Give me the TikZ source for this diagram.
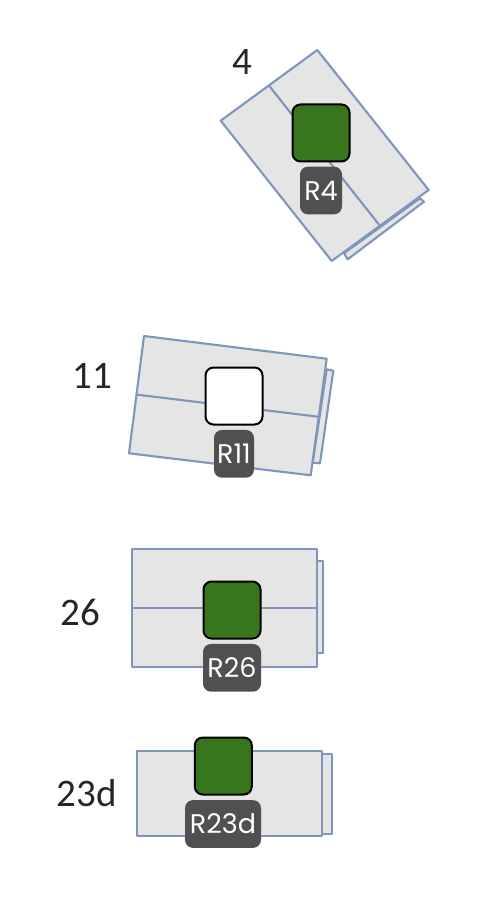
\documentclass[tikz,border=0pt]{standalone}
\usepackage{fontspec}
\setmainfont{Poppins}
\newfontfamily\numfont{Carlito}
\definecolor{edgeblue}{HTML}{7F95BC}
\definecolor{panelgrey}{HTML}{E5E5E5}
\definecolor{padgreen}{HTML}{38761D}
\definecolor{taggrey}{HTML}{505050}
\tikzset{
  panel/.style={draw=edgeblue,fill=panelgrey,line width=2.1pt,line join=round},
  divider/.style={draw=edgeblue,line width=2.1pt},
  pad/.style={draw=black,line width=2pt,rounded corners=8pt,minimum width=57pt,minimum height=57pt,inner sep=0pt},
  greenpad/.style={pad,fill=padgreen},
  whitepad/.style={pad,fill=white},
  tag/.style={fill=taggrey,rounded corners=8pt,text=white,inner sep=0pt,minimum height=47.7pt,font=\fontsize{27}{27}\selectfont},
  num/.style={text=black!85,inner sep=0pt,font=\numfont\fontsize{39}{39}\selectfont}
}
\begin{document}
\begin{tikzpicture}[x=1pt,y=-1pt]
\useasboundingbox[fill=white] (0,0) rectangle (480,920);
% panel 4
\draw[panel] (344,253.3) -- (347.7,259.3) -- (424,201.7) -- (420,198.3) -- cycle;
\draw[panel] (317.3,50) -- (428.7,190) -- (331.7,261) -- (220.7,120.7) -- cycle;
\coordinate (d4a) at (269.3,86);
\coordinate (d4b) at (379.3,225);
\draw[divider] (d4a) -- (d4b);
\node[greenpad] (p4) at (321,133) {};
\node[tag,minimum width=42pt] (t4) at (321,190.5) {R4};
\node[num] (n4) at (242.5,62) {4};
% panel 11
\draw[panel] (326.7,369.3) -- (333.3,370.7) -- (320,463.3) -- (312.7,462.7) -- cycle;
\draw[panel] (144,336) -- (326.7,358.7) -- (310.7,475.3) -- (129,453.3) -- cycle;
\coordinate (d11a) at (137.3,394.7);
\coordinate (d11b) at (318.3,416.7);
\draw[divider] (d11a) -- (d11b);
\node[whitepad] (p11) at (234,396) {};
\node[tag,minimum width=40pt] (t11) at (234,453.8) {R11};
\node[num] (n11) at (92,376) {11};
% panel 26
\draw[panel] (316.7,560.7) rectangle (323.3,653.3);
\draw[panel] (132.3,548.7) rectangle (316.7,667.3);
\coordinate (d26a) at (132.3,608.3);
\coordinate (d26b) at (316.7,608.3);
\draw[divider] (d26a) -- (d26b);
\node[greenpad] (p26) at (232,610) {};
\node[tag,minimum width=58pt] (t26) at (232,667.8) {R26};
\node[num] (n26) at (80,612) {26};
% panel 23d
\draw[panel] (321.7,754) rectangle (331.7,834);
\draw[panel] (137.3,750.7) rectangle (321.7,835.7);
\node[greenpad] (p23) at (223.3,766) {};
\node[tag,minimum width=76pt] (t23) at (223,824) {R23d};
\node[num] (n23) at (86.5,793) {23d};
\end{tikzpicture}
\end{document}
